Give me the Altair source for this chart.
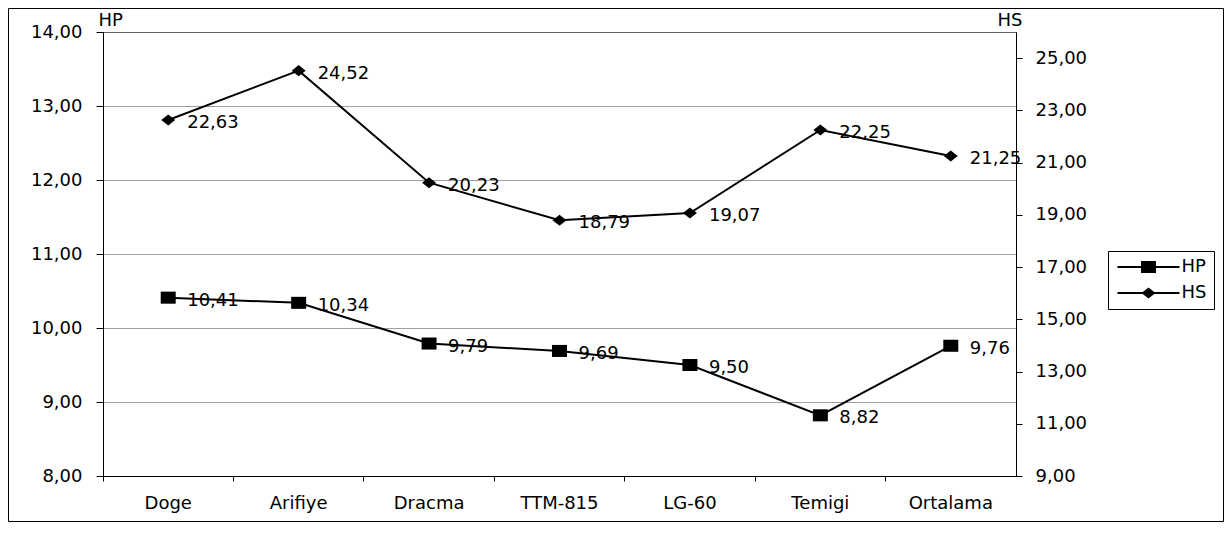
import altair as alt
import pandas as pd

categories = ["Doge", "Arifiye", "Dracma", "TTM-815", "LG-60", "Temigi", "Ortalama"]
hp = [10.41, 10.34, 9.79, 9.69, 9.50, 8.82, 9.76]
hs = [22.63, 24.52, 20.23, 18.79, 19.07, 22.25, 21.25]
hp_ticks = [8, 9, 10, 11, 12, 13, 14]
hs_ticks = [9, 11, 13, 15, 17, 19, 21, 23, 25]
series = ["HP", "HS"]


def tr(v):
    return f"{v:.2f}".replace(".", ",")


df = pd.DataFrame({
    "cat": categories,
    "HP": hp,
    "HS": hs,
    "HP_lbl": [tr(v) for v in hp],
    "HS_lbl": [tr(v) for v in hs],
})

FONT = "DejaVu Sans"
FS = 18
W, H = 913, 444

square_path = "M-1.07,-0.86H1.07V0.86H-1.07Z"
diamond_path = "M-1,0L0,-0.79L1,0L0,0.79Z"
leg_hp = "M-4.43,-0.14H4.43V0.14H-4.43Z M-1.07,-0.86H1.07V0.86H-1.07Z"
leg_hs = "M-4.43,-0.14H4.43V0.14H-4.43Z M-1,0L0,-0.79L1,0L0,0.79Z"

lbl_expr = "replace(format(datum.value, '.2f'), '.', ',')"

x_enc = alt.X(
    "cat:N", sort=categories,
    scale=alt.Scale(type="band", paddingInner=0, paddingOuter=0),
    axis=alt.Axis(title=None, labelAngle=0, bandPosition=0,
                  tickSize=5, labelPadding=13, grid=False,
                  domainColor="black", tickColor="black"),
)

hp_base = alt.Chart(df).encode(
    x=x_enc,
    y=alt.Y("HP:Q", scale=alt.Scale(domain=[8, 14], nice=False, zero=False),
            axis=alt.Axis(values=hp_ticks, labelExpr=lbl_expr, title="HP",
                          titleAngle=0, titleAlign="left", titleBaseline="alphabetic",
                          titleX=-5, titleY=-7, tickSize=7, labelPadding=14,
                          grid=True, gridDash=[1, 1], gridColor="#404040", gridWidth=1,
                          domainColor="black", tickColor="black")),
)

hp_line = hp_base.mark_line(color="black", strokeWidth=2)
hp_pts = hp_base.mark_point(shape=square_path, size=196, filled=True, color="black", opacity=1)
hp_txt = hp_base.mark_text(align="left", baseline="middle", dx=19, dy=3,
                           font=FONT, fontSize=FS, color="black").encode(text="HP_lbl:N")

legend_layer = hp_base.transform_calculate(series="'HP'").transform_filter("false").mark_point(
    filled=True, color="black", size=196
).encode(
    shape=alt.Shape("series:N", scale=alt.Scale(domain=series, range=[leg_hp, leg_hs]),
                    legend=alt.Legend(title=None, orient="none", legendX=1005, legendY=219,
                                      padding=7, strokeColor="black", fillColor="white",
                                      rowPadding=8, symbolOffset=24.5, labelOffset=24,
                                      symbolSize=196, symbolFillColor="black",
                                      symbolStrokeWidth=0, symbolOpacity=1,
                                      labelFont=FONT, labelFontSize=FS, labelColor="black"))
)

frame = alt.Chart(alt.Data(values=[{"k": 1}])).mark_rect(
    fill="transparent", stroke="black", strokeWidth=1
).encode(x=alt.value(-94.5), x2=alt.value(1120.5), y=alt.value(-23.5), y2=alt.value(489.5))

hp_layer = alt.layer(frame, hp_line, hp_pts, hp_txt, legend_layer)

hs_base = alt.Chart(df).encode(
    x=x_enc,
    y=alt.Y("HS:Q", scale=alt.Scale(domain=[9, 26], nice=False, zero=False),
            axis=alt.Axis(orient="right", values=hs_ticks, labelExpr=lbl_expr, title="HS",
                          titleAngle=0, titleAlign="left", titleBaseline="alphabetic",
                          titleX=-19, titleY=-7, tickSize=6, labelPadding=13, grid=False,
                          domainColor="black", tickColor="black")),
)
hs_line = hs_base.mark_line(color="black", strokeWidth=2)
hs_pts = hs_base.mark_point(shape=diamond_path, size=196, filled=True, color="black", opacity=1)
hs_txt = hs_base.mark_text(align="left", baseline="middle", dx=19, dy=3,
                           font=FONT, fontSize=FS, color="black").encode(text="HS_lbl:N")
hs_layer = alt.layer(hs_line, hs_pts, hs_txt)

chart = alt.layer(hp_layer, hs_layer).resolve_scale(y="independent").properties(
    width=W, height=H,
    autosize=alt.AutoSizeParams(type="none"),
    padding={"left": 95, "top": 24, "right": 208, "bottom": 46},
    background="white",
).configure_view(
    stroke="#808080", strokeWidth=1
).configure_axis(
    labelFont=FONT, labelFontSize=FS, labelColor="black",
    titleFont=FONT, titleFontSize=FS, titleFontWeight="normal", titleColor="black",
    domainWidth=1, tickWidth=1,
)

chart.save("out.html", embed_options={"renderer": "svg", "actions": False})
